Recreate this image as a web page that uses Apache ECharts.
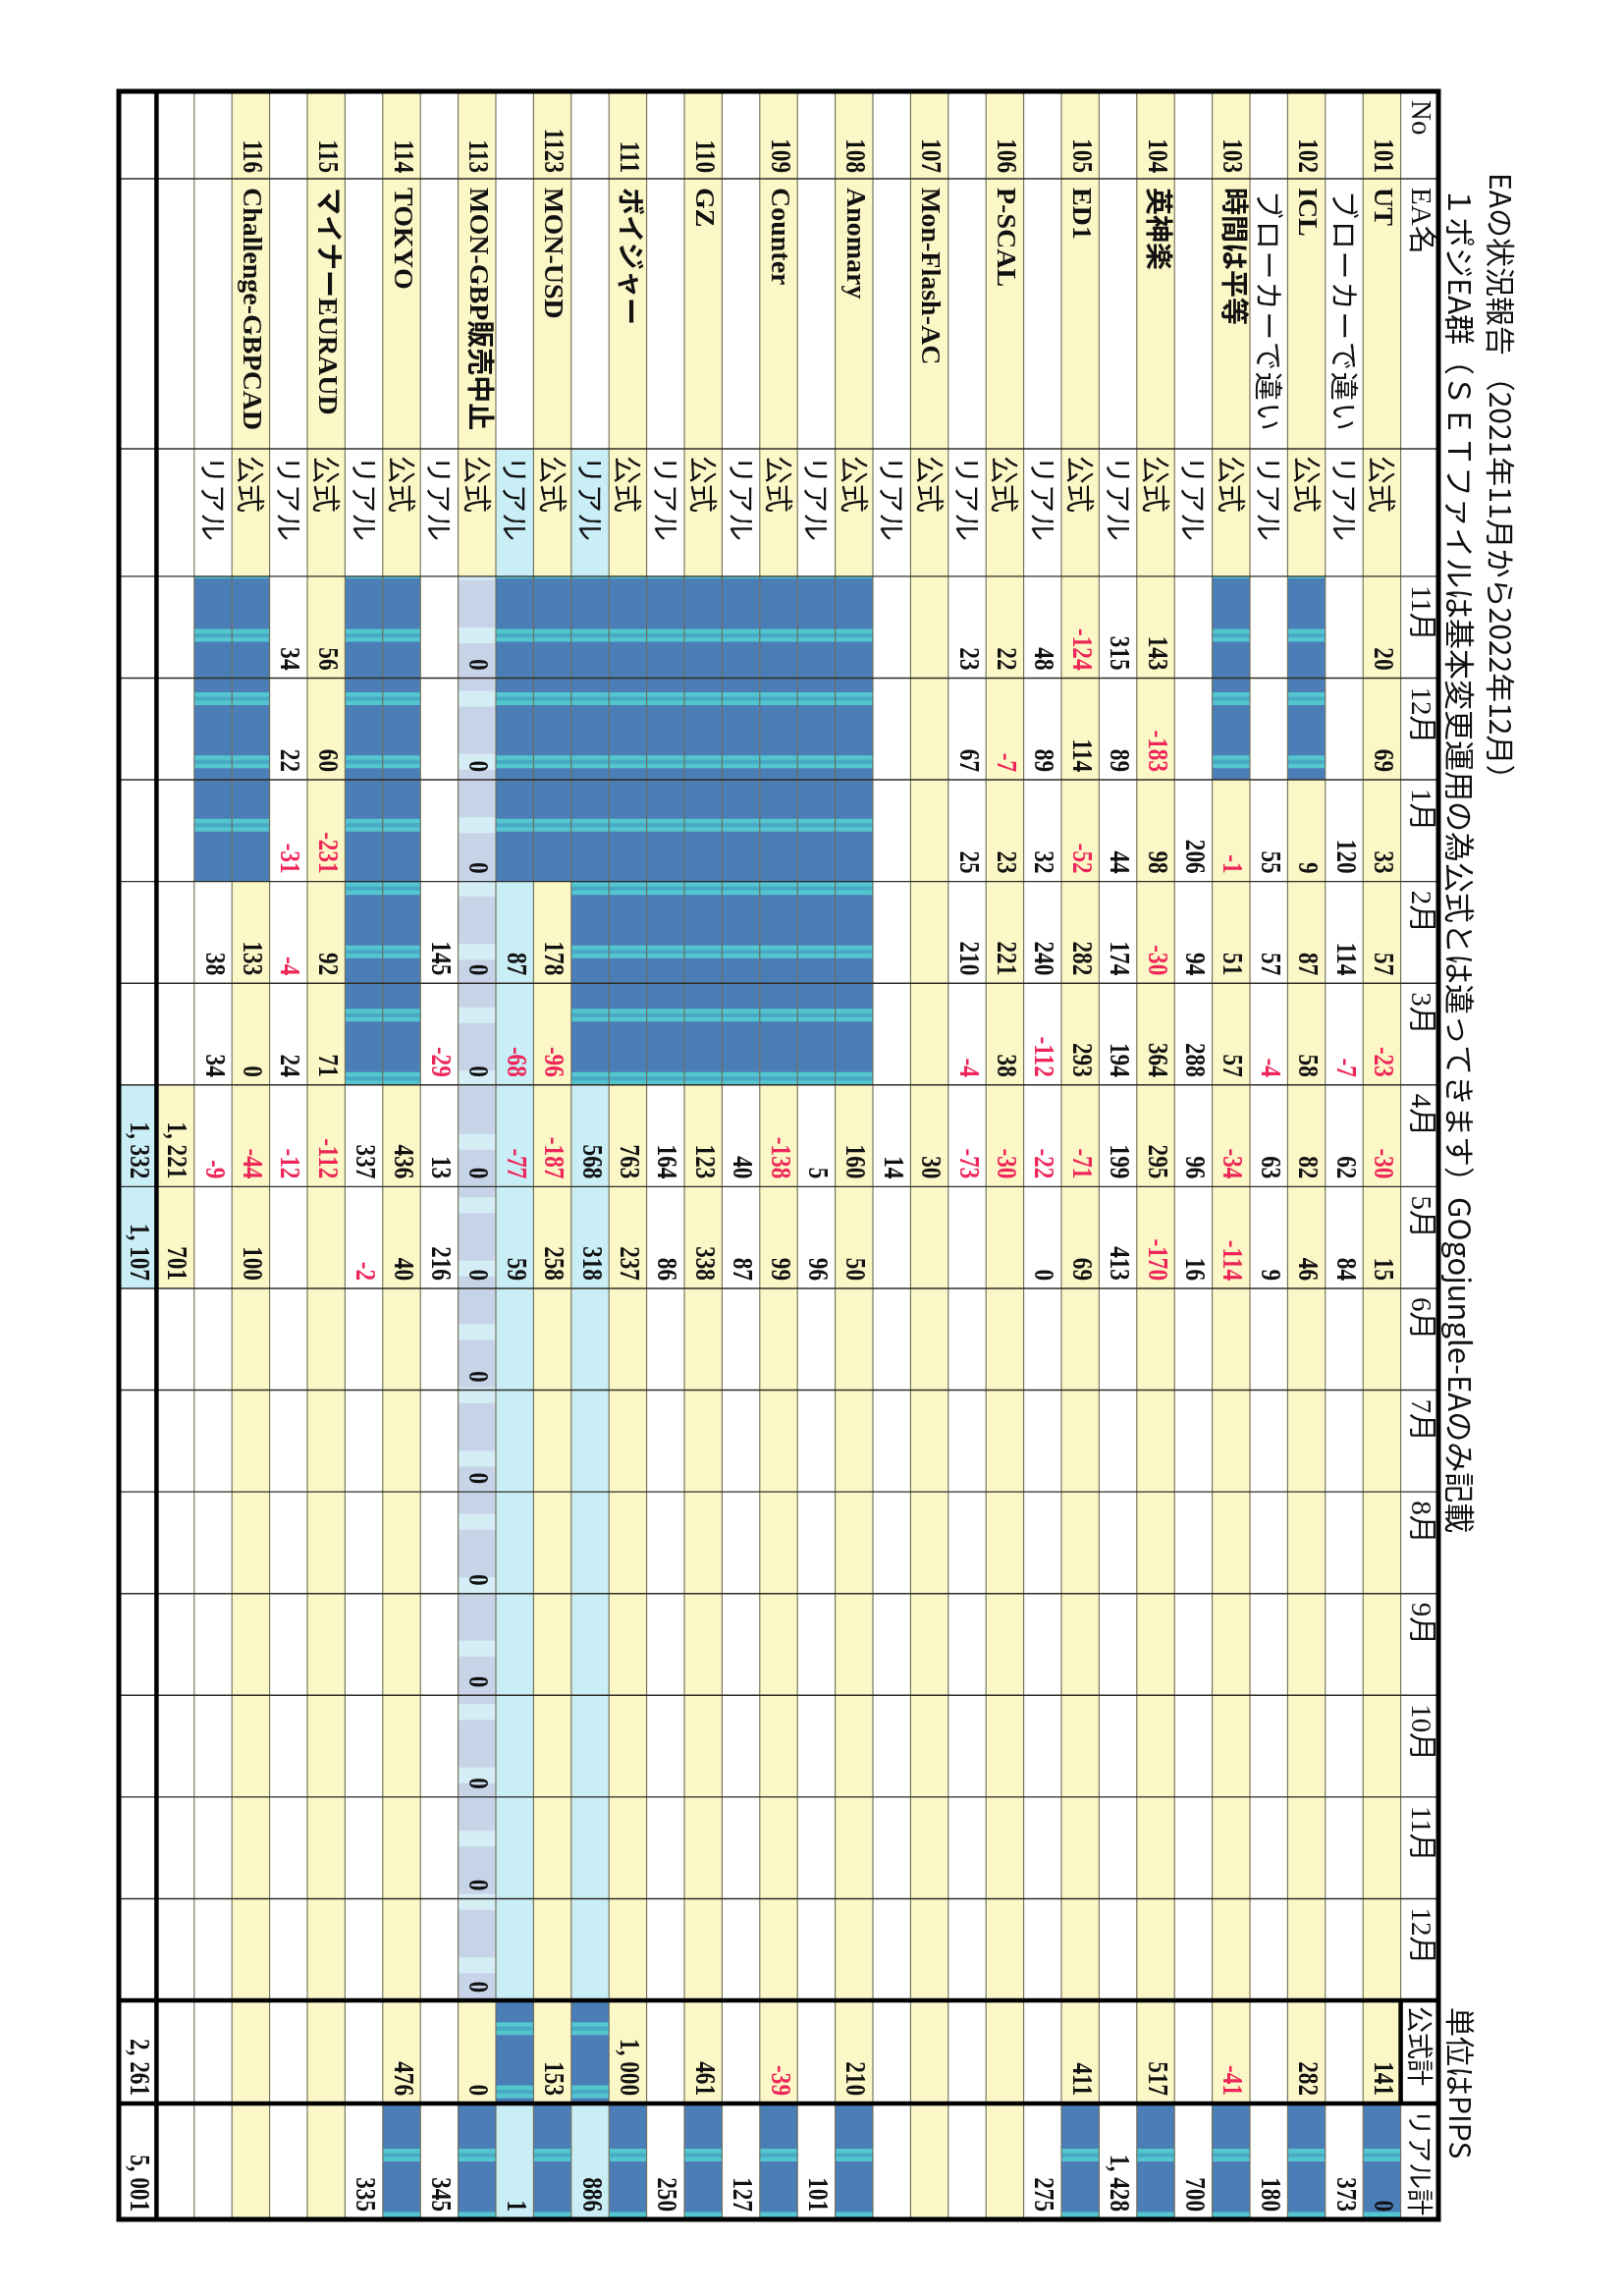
<!DOCTYPE html>
<html lang="ja">
<head>
<meta charset="utf-8">
<title>EAの状況報告</title>
<script src="https://cdn.jsdelivr.net/npm/echarts/dist/echarts.min.js"></script>
<style>
html,body{margin:0;padding:0;background:#ffffff;}
#chart{width:1654px;height:2338px;}
</style>
</head>
<body>
<div id="chart"></div>
<script>
// ---------------- DATA ----------------
const _ = null;
const titleText = 'EAの状況報告 （2021年11月から2022年12月）';
const subtitleText = '１ポジEA群（ＳＥＴファイルは基本変更運用の為公式とは違ってきます）GOgojungle-EAのみ記載';
const unitText = '単位はPIPS';

const headerLabels = ['No', 'EA名', ''];
const monthLabels = ['11月','12月','1月','2月','3月','4月','5月','6月','7月','8月','9月','10月','11月','12月'];
const sumLabels = ['公式計', 'リアル計'];
const kindLabels = ['公式', 'リアル'];

const eaNo = ['101','102','103','104','105','106','107','108','109','110','111','1123','113','114','115','116'];
const eaName = ['UT','ICL','時間は平等','英神楽','ED1','P-SCAL','Mon-Flash-AC','Anomary','Counter','GZ','ボイジャー','MON-USD','MON-GBP販売中止','TOKYO','マイナーEURAUD','Challenge-GBPCAD'];
const realNote = ['ブローカーで違い','ブローカーで違い','','','','','','','','','','','','','',''];

// monthly pips, 公式 rows (11月 .. 12月)
const officialPips = [
  [20, 69, 33, 57, -23, -30, 15, _, _, _, _, _, _, _],
  [_, _, 9, 87, 58, 82, 46, _, _, _, _, _, _, _],
  [_, _, -1, 51, 57, -34, -114, _, _, _, _, _, _, _],
  [143, -183, 98, -30, 364, 295, -170, _, _, _, _, _, _, _],
  [-124, 114, -52, 282, 293, -71, 69, _, _, _, _, _, _, _],
  [22, -7, 23, 221, 38, -30, _, _, _, _, _, _, _, _],
  [_, _, _, _, _, 30, _, _, _, _, _, _, _, _],
  [_, _, _, _, _, 160, 50, _, _, _, _, _, _, _],
  [_, _, _, _, _, -138, 99, _, _, _, _, _, _, _],
  [_, _, _, _, _, 123, 338, _, _, _, _, _, _, _],
  [_, _, _, _, _, 763, 237, _, _, _, _, _, _, _],
  [_, _, _, 178, -96, -187, 258, _, _, _, _, _, _, _],
  [0, 0, 0, 0, 0, 0, 0, 0, 0, 0, 0, 0, 0, 0],
  [_, _, _, _, _, 436, 40, _, _, _, _, _, _, _],
  [56, 60, -231, 92, 71, -112, _, _, _, _, _, _, _, _],
  [_, _, _, 133, 0, -44, 100, _, _, _, _, _, _, _]
];
// monthly pips, リアル rows
const realPips = [
  [_, _, 120, 114, -7, 62, 84, _, _, _, _, _, _, _],
  [_, _, 55, 57, -4, 63, 9, _, _, _, _, _, _, _],
  [_, _, 206, 94, 288, 96, 16, _, _, _, _, _, _, _],
  [315, 89, 44, 174, 194, 199, 413, _, _, _, _, _, _, _],
  [48, 89, 32, 240, -112, -22, 0, _, _, _, _, _, _, _],
  [23, 67, 25, 210, -4, -73, _, _, _, _, _, _, _, _],
  [_, _, _, _, _, 14, _, _, _, _, _, _, _, _],
  [_, _, _, _, _, 5, 96, _, _, _, _, _, _, _],
  [_, _, _, _, _, 40, 87, _, _, _, _, _, _, _],
  [_, _, _, _, _, 164, 86, _, _, _, _, _, _, _],
  [_, _, _, _, _, 568, 318, _, _, _, _, _, _, _],
  [_, _, _, 87, -68, -77, 59, _, _, _, _, _, _, _],
  [_, _, _, 145, -29, 13, 216, _, _, _, _, _, _, _],
  [_, _, _, _, _, 337, -2, _, _, _, _, _, _, _],
  [34, 22, -31, -4, 24, -12, _, _, _, _, _, _, _, _],
  [_, _, _, 38, 34, -9, _, _, _, _, _, _, _, _]
];
const officialSum = [141, 282, -41, 517, 411, _, _, 210, -39, 461, 1000, 153, 0, 476, _, _];
const officialRowRealSum = [0, _, _, _, _, _, _, _, _, _, _, _, _, _, _, _];
const realSum = [373, 180, 700, 1428, 275, _, _, 101, 127, 250, 886, 1, 345, 335, _, _];
const subtotalPips = [_, _, _, _, _, 1221, 701, _, _, _, _, _, _, _];
const grandPips = [_, _, _, _, _, 1332, 1107, _, _, _, _, _, _, _];
const grandSum = [2261, 5001];

// cell states (months in which the EA was not run / highlighted)
const officialStopped = [[],[0,1],[0,1],[],[],[],[],[0,1,2,3,4],[0,1,2,3,4],[0,1,2,3,4],[0,1,2,3,4],[0,1,2],[],[0,1,2,3,4],[],[0,1,2]];
const realStopped     = [[],[],[],[],[],[],[],[0,1,2,3,4],[0,1,2,3,4],[0,1,2,3,4],[0,1,2,3,4],[0,1,2],[],[0,1,2,3,4],[],[0,1,2]];
const officialHalted  = [0,0,0,0,0,0,0,0,0,0,0,0,1,0,0,0];
const realLiveFrom    = [_,_,_,_,_,_,_,_,_,_,5,3,_,_,_,_];
const officialRowRealSumStopped = [1,1,1,1,1,0,0,1,1,1,1,1,1,1,0,0];
const realRowOfficialSumStopped = [0,0,0,0,0,0,0,0,0,0,1,1,0,0,0,0];

// ---------------- LAYOUT / STYLE ----------------
const colWidths = [89, 275, 130].concat(monthLabels.map(() => 103.6)).concat([105, 118]);
const colEdges = [0];
colWidths.forEach(w => colEdges.push(colEdges[colEdges.length - 1] + w));
const totalUnits = colEdges[colEdges.length - 1];
const bandCount = 1 + eaNo.length * 2 + 2;
const COL_MONTH0 = 3, COL_OSUM = 3 + monthLabels.length, COL_RSUM = COL_OSUM + 1;

const C = {
  yellow: '#FCF7C6', white: '#FFFFFF', light: '#C9EEF6',
  dark: '#4B7EB7', stripe: '#53C6CF', stripeMid: '#48A9C5',
  halt: '#C7D4E8', haltStripe: '#D5EDF5',
  text: '#111111', red: '#EE2559', band: '#6f6b55', col: '#2e2d27'
};
const FONT_NUM = 'bold 29px "Liberation Serif", "Noto Sans CJK JP", serif';
const FONT_HEAD = '29px "Liberation Serif", "Noto Sans CJK JP", serif';
const FONT_SUMHEAD = '27px "Noto Sans CJK JP", sans-serif';
const FONT_KIND = '29px "Noto Sans CJK JP", sans-serif';
const FONT_NOTE = '29px "Noto Sans CJK JP", sans-serif';
const FONT_NAME = 'bold 28px "Liberation Serif", "Noto Sans CJK JP", serif';
const TITLE_FONT = '30px "Noto Sans CJK JP", sans-serif';
const SUBTITLE_FONT = '31px "Noto Sans CJK JP", sans-serif';
const STRIPE_START = 554, STRIPE_PERIOD = 64.5;

function fmt(v) {
  if (v === null || v === undefined) return '';
  const s = String(Math.abs(v)).replace(/\B(?=(\d{3})+(?!\d))/g, ', ');
  return (v < 0 ? '-' : '') + s;
}
function spread(t) { return t.split('').join('\u200A'); }

// ---------------- BUILD CELLS ----------------
const cells = [];
const info = [];
function add(band, col, fill, text, opt) {
  cells.push([band, col]);
  info.push(Object.assign({ fill: fill, text: text || '', align: 'left', font: FONT_HEAD, color: C.text, sx: 1, pattern: null, pad: 9 }, opt || {}));
}
function numCell(band, col, fill, v, pattern) {
  add(band, col, fill, fmt(v), { align: 'right', font: FONT_NUM, sx: 0.8, pad: 8, color: (v !== null && v < 0) ? C.red : C.text, pattern: pattern || null });
}

// header band
headerLabels.forEach((t, c) => add(0, c, C.white, t));
monthLabels.forEach((t, m) => add(0, COL_MONTH0 + m, C.white, t));
sumLabels.forEach((t, k) => add(0, COL_OSUM + k, C.white, t, { font: FONT_SUMHEAD, pad: 6 }));

eaNo.forEach((no, i) => {
  const ob = 1 + i * 2, rb = 2 + i * 2;
  // 公式 row
  add(ob, 0, C.yellow, no, { align: 'right', font: FONT_NUM, sx: 0.8, pad: 6 });
  add(ob, 1, C.yellow, eaName[i], { font: FONT_NAME });
  add(ob, 2, C.yellow, kindLabels[0], { font: FONT_KIND, pad: 7 });
  officialPips[i].forEach((v, m) => {
    if (officialStopped[i].indexOf(m) >= 0) numCell(ob, COL_MONTH0 + m, C.dark, v, 'dark');
    else if (officialHalted[i]) numCell(ob, COL_MONTH0 + m, C.halt, v, 'halt');
    else numCell(ob, COL_MONTH0 + m, C.yellow, v);
  });
  numCell(ob, COL_OSUM, C.yellow, officialSum[i]);
  if (officialRowRealSumStopped[i]) numCell(ob, COL_RSUM, C.dark, officialRowRealSum[i], 'dark');
  else numCell(ob, COL_RSUM, C.yellow, officialRowRealSum[i]);
  // リアル row
  const live = realLiveFrom[i];
  add(rb, 0, C.white, '');
  add(rb, 1, C.white, spread(realNote[i]), { font: FONT_NOTE, pad: 12 });
  add(rb, 2, live !== null ? C.light : C.white, kindLabels[1], { font: FONT_KIND, pad: 7 });
  realPips[i].forEach((v, m) => {
    if (realStopped[i].indexOf(m) >= 0) numCell(rb, COL_MONTH0 + m, C.dark, v, 'dark');
    else if (live !== null && m >= live) numCell(rb, COL_MONTH0 + m, C.light, v);
    else numCell(rb, COL_MONTH0 + m, C.white, v);
  });
  if (realRowOfficialSumStopped[i]) numCell(rb, COL_OSUM, C.dark, null, 'dark');
  else numCell(rb, COL_OSUM, C.white, null);
  numCell(rb, COL_RSUM, live !== null ? C.light : C.white, realSum[i]);
});

// subtotal band
const subBand = bandCount - 2, totBand = bandCount - 1;
[0, 1, 2].forEach(c => add(subBand, c, C.white, ''));
subtotalPips.forEach((v, m) => numCell(subBand, COL_MONTH0 + m, v !== null ? C.yellow : C.white, v));
numCell(subBand, COL_OSUM, C.white, null);
numCell(subBand, COL_RSUM, C.white, null);
// grand total band
[0, 1, 2].forEach(c => add(totBand, c, C.white, ''));
grandPips.forEach((v, m) => numCell(totBand, COL_MONTH0 + m, v !== null ? C.light : C.white, v));
numCell(totBand, COL_OSUM, C.white, grandSum[0]);
numCell(totBand, COL_RSUM, C.white, grandSum[1]);

// ---------------- RENDER ----------------
function renderCell(params, api) {
  const d = info[params.dataIndex];
  const b = api.value(0), c = api.value(1);
  const pA = api.coord([b, colEdges[c]]);
  const pB = api.coord([b + 1, colEdges[c + 1]]);
  const x = Math.min(pA[0], pB[0]), y = Math.min(pA[1], pB[1]);
  const w = Math.abs(pA[0] - pB[0]), h = Math.abs(pA[1] - pB[1]);
  const kids = [{ type: 'rect', shape: { x: x, y: y, width: w, height: h }, style: { fill: d.fill }, silent: true }];
  if (d.pattern) {
    const s0 = api.coord([0, STRIPE_START])[1];
    const per = api.size([0, STRIPE_PERIOD])[1];
    const sh = d.pattern === 'dark' ? 13 : 16;
    for (let k = -2; k < 40; k++) {
      const cy = s0 + k * per;
      const y0 = Math.max(y, cy - sh / 2), y1 = Math.min(y + h, cy + sh / 2);
      if (y1 <= y0) continue;
      kids.push({ type: 'rect', shape: { x: x, y: y0, width: w, height: y1 - y0 }, style: { fill: d.pattern === 'dark' ? C.stripe : C.haltStripe }, silent: true });
      if (d.pattern === 'dark') {
        const m0 = Math.max(y, cy - 2), m1 = Math.min(y + h, cy + 2);
        if (m1 > m0) kids.push({ type: 'rect', shape: { x: x, y: m0, width: w, height: m1 - m0 }, style: { fill: C.stripeMid }, silent: true });
      }
    }
  }
  if (d.text) {
    kids.push({
      type: 'text', x: x + w / 2, y: d.align === 'right' ? y + h - d.pad : y + d.pad,
      rotation: -Math.PI / 2, scaleX: d.sx, scaleY: 1, silent: true,
      style: { text: d.text, font: d.font, fill: d.color, align: d.align, verticalAlign: 'middle' }
    });
  }
  return { type: 'group', children: kids };
}

function renderLines(params, api) {
  const kids = [];
  const tl = api.coord([0, 0]), br = api.coord([bandCount, totalUnits]);
  const xR = Math.max(tl[0], br[0]), xL = Math.min(tl[0], br[0]);
  const yT = Math.min(tl[1], br[1]), yB = Math.max(tl[1], br[1]);
  for (let b = 1; b < bandCount; b++) {
    const x = api.coord([b, 0])[0];
    kids.push({ type: 'line', shape: { x1: x, y1: yT, x2: x, y2: yB }, style: { stroke: C.band, lineWidth: 1.1 }, silent: true });
  }
  for (let c = 1; c < colEdges.length - 1; c++) {
    const y = api.coord([0, colEdges[c]])[1];
    kids.push({ type: 'line', shape: { x1: xL, y1: y, x2: xR, y2: y }, style: { stroke: C.col, lineWidth: 1.4 }, silent: true });
  }
  // heavy rules
  const heavy = { stroke: '#000', lineWidth: 4.5 };
  const xSub = api.coord([bandCount - 1, 0])[0];
  kids.push({ type: 'line', shape: { x1: xSub, y1: yT, x2: xSub, y2: yB }, style: heavy, silent: true });
  [COL_OSUM, COL_RSUM].forEach(c => {
    const y = api.coord([0, colEdges[c]])[1];
    kids.push({ type: 'line', shape: { x1: xL, y1: y, x2: xR, y2: y }, style: heavy, silent: true });
  });
  const xH = api.coord([1, 0])[0];
  const yo0 = api.coord([0, colEdges[COL_OSUM]])[1], yo1 = api.coord([0, colEdges[COL_RSUM]])[1];
  kids.push({ type: 'line', shape: { x1: xH, y1: yo0, x2: xH, y2: yo1 }, style: heavy, silent: true });
  kids.push({ type: 'rect', shape: { x: xL, y: yT, width: xR - xL, height: yB - yT }, style: { fill: 'none', stroke: '#000', lineWidth: 5 }, silent: true });
  return { type: 'group', children: kids };
}

const chart = echarts.init(document.getElementById('chart'), null, { renderer: 'canvas' });
chart.setOption({
  animation: false,
  backgroundColor: '#ffffff',
  grid: { left: 121, top: 93, width: 1344, height: 2167, containLabel: false },
  xAxis: { type: 'value', min: 0, max: bandCount, inverse: true, show: false },
  yAxis: { type: 'value', min: 0, max: totalUnits, inverse: true, show: false },
  graphic: [
    { type: 'text', x: 1528, y: 176, rotation: -Math.PI / 2, style: { text: titleText, font: TITLE_FONT, fill: '#111', align: 'left', verticalAlign: 'middle' } },
    { type: 'text', x: 1487, y: 190, rotation: -Math.PI / 2, style: { text: subtitleText, font: SUBTITLE_FONT, fill: '#111', align: 'left', verticalAlign: 'middle' } },
    { type: 'text', x: 1487, y: 2044, rotation: -Math.PI / 2, style: { text: unitText, font: TITLE_FONT, fill: '#111', align: 'left', verticalAlign: 'middle' } }
  ],
  series: [
    { type: 'custom', name: 'cells', coordinateSystem: 'cartesian2d', data: cells, renderItem: renderCell, clip: false, silent: true },
    { type: 'custom', name: 'rules', coordinateSystem: 'cartesian2d', data: [[0, 0]], renderItem: renderLines, clip: false, silent: true, z: 5 }
  ]
});
</script>
</body>
</html>
